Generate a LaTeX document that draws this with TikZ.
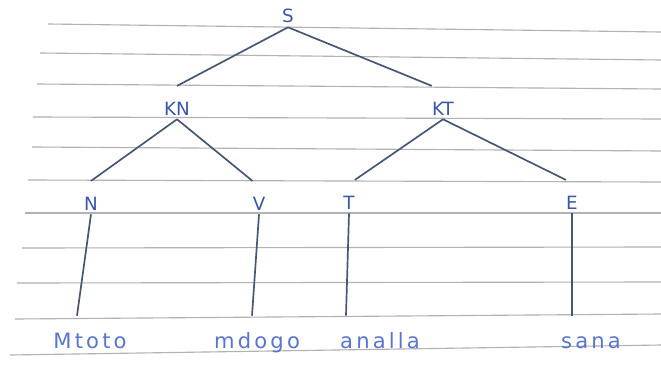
\documentclass[tikz,border=0pt]{standalone}
\usepackage{fontspec}
\usepackage{tikz}
\usetikzlibrary{positioning}

\newfontfamily\handfont{DejaVu Sans}
\newfontfamily\wordfont[LetterSpace=15]{DejaVu Sans}
\definecolor{ink}{RGB}{58,88,170}
\definecolor{wordink}{RGB}{88,118,208}
\definecolor{pencil}{RGB}{72,86,118}
\definecolor{paperrule}{RGB}{178,178,178}

\tikzset{
  cat/.style={anchor=base, inner sep=0pt, text height=0.72cm, text depth=0.1cm,
    font=\handfont\fontsize{13}{15}\selectfont, text=ink},
  word/.style={anchor=base, inner sep=0pt, text height=0.8cm,
    font=\wordfont\fontsize{15}{17}\selectfont, text=wordink},
  ruled/.style={draw=paperrule, line width=0.8pt},
  branch/.style={draw=pencil, line width=1.2pt}
}

\begin{document}
\begin{tikzpicture}[x=0.025cm,y=-0.025cm]
\fill[white] (0,0) rectangle (661,387);
\useasboundingbox (0,0) rectangle (661,387);

\draw[ruled] (48,24) -- (661,32);
\draw[ruled] (40,53) -- (661,60);
\draw[ruled] (37,84) -- (661,89);
\draw[ruled] (33,117) -- (661,119);
\draw[ruled] (32,147) -- (661,151);
\draw[ruled] (28,180) -- (661,182);
\draw[ruled] (25,213) -- (661,213);
\draw[ruled] (22,248) -- (661,247);
\draw[ruled] (17,283) -- (661,282);
\draw[ruled] (15,319) -- (661,314);
\draw[ruled] (10,355) -- (661,345);

\node[cat] (S) at (288,23) {S};
\node[cat] (KN) at (177,115) {KN};
\node[cat] (KT) at (443,115) {KT};
\node[cat] (N) at (91,210) {N};
\node[cat] (V) at (259,210) {V};
\node[cat] (T) at (349,209) {T};
\node[cat] (E) at (572,209) {E};
\node[word] (Mtoto) at (90,348) {Mtoto};
\node[word] (mdogo) at (257,348) {mdogo};
\node[word] (analla) at (380,348) {analla};
\node[word] (sana) at (591,348) {sana};

\path[branch]
(S.south) edge (KN.north)
(S.south) edge (KT.north west)
(KN.south) edge (N.north)
(KN.south) edge (V.north west)
(KT.south) edge (T.north east)
(KT.south) edge (E.north west)
(N.south) edge ([xshift=-3.5mm]N.south |- Mtoto.north)
(V.south) edge ([xshift=-1.75mm]V.south |- mdogo.north)
(T.south) edge ([xshift=-0.75mm]T.south |- analla.north)
(E.south) edge (E.south |- sana.north)
;
\end{tikzpicture}
\end{document}
